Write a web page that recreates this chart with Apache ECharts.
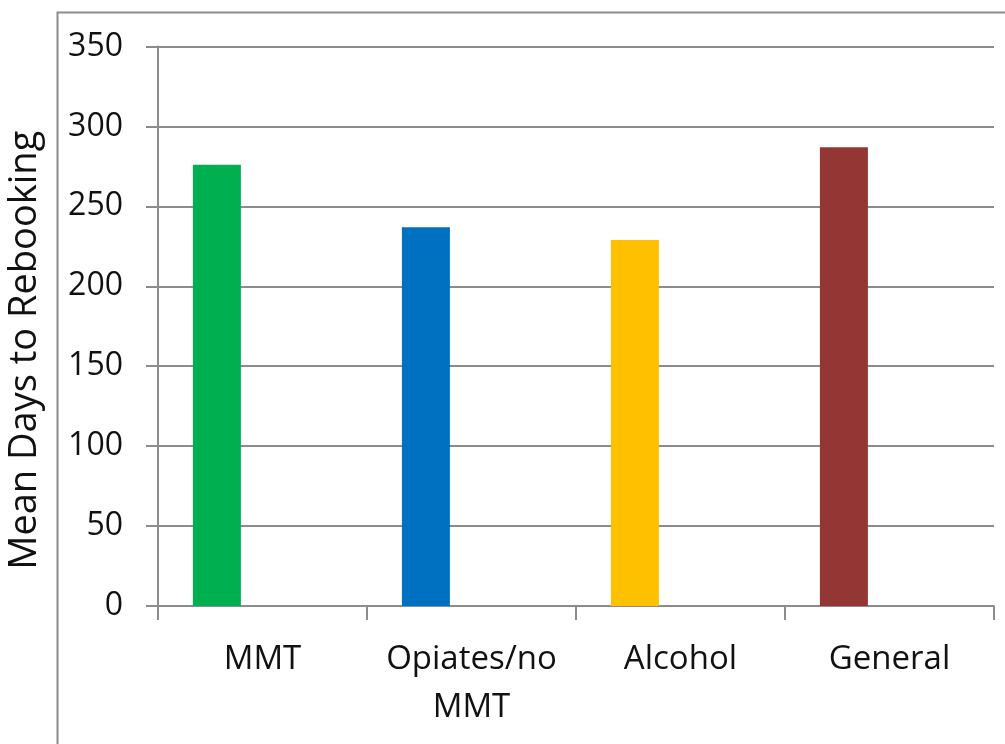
<!DOCTYPE html>
<html>
<head>
<meta charset="utf-8">
<script src="https://cdn.jsdelivr.net/npm/echarts@6/dist/echarts.min.js"></script>
<style>
  html, body { margin: 0; padding: 0; background: #fff; }
  #main { width: 1005px; height: 744px; }
</style>
</head>
<body>
<div id="main"></div>
<script>
  // categories and values
  var categories = ['MMT', 'Opiates/no\nMMT', 'Alcohol', 'General']
  var meanDays = [276, 237, 229, 287]
  var barColors = ['#00b050', '#0070c0', '#ffc000', '#943634']
  var yTicks = [0, 50, 100, 150, 200, 250, 300, 350]

  var lineGray = '#8c8c8c'
  var font = 'Open Sans'

  var myChart = echarts.init(document.getElementById('main'))
  var option = {
    animation: false,
    backgroundColor: '#fff',
    graphic: [
      {
        // outer chart frame
        type: 'rect',
        left: 55,
        top: 10,
        shape: { width: 1000, height: 800 },
        style: { fill: 'none', stroke: lineGray, lineWidth: 2 },
        silent: true
      }
    ],
    grid: {
      left: 158,
      right: 11,
      top: 46.5,
      bottom: 138,
      outerBoundsMode: 'none'
    },
    xAxis: {
      type: 'category',
      data: categories,
      axisLine: { lineStyle: { color: lineGray, width: 2 } },
      axisTick: { show: true, length: 14, lineStyle: { color: lineGray, width: 2 } },
      axisLabel: {
        color: '#111',
        fontFamily: font,
        fontSize: 33,
        lineHeight: 48,
        margin: 30,
        interval: 0
      }
    },
    yAxis: {
      type: 'value',
      min: 0,
      max: yTicks[yTicks.length - 1],
      interval: 50,
      name: 'Mean Days to Rebooking',
      nameLocation: 'middle',
      nameGap: 114,
      nameTextStyle: {
        color: '#111',
        fontFamily: font,
        fontSize: 38,
        padding: [0, 48, 0, 0]
      },
      axisLine: { show: true, lineStyle: { color: lineGray, width: 2 } },
      axisTick: { show: true, length: 12, lineStyle: { color: lineGray, width: 2 } },
      splitLine: { lineStyle: { color: lineGray, width: 2 } },
      axisLabel: {
        color: '#111',
        fontFamily: font,
        fontSize: 32,
        margin: 35
      }
    },
    series: [
      {
        name: 'Mean Days',
        type: 'bar',
        barWidth: 48,
        barGap: '90%',
        data: meanDays.map(function (v, i) {
          return { value: v, itemStyle: { color: barColors[i] } }
        })
      },
      {
        // empty second slot, keeps bars left of centre as in the source
        name: 'blank',
        type: 'bar',
        barWidth: 48,
        barGap: '90%',
        data: categories.map(function () { return '-' })
      }
    ]
  }
  option && myChart.setOption(option, true)
</script>
</body>
</html>
